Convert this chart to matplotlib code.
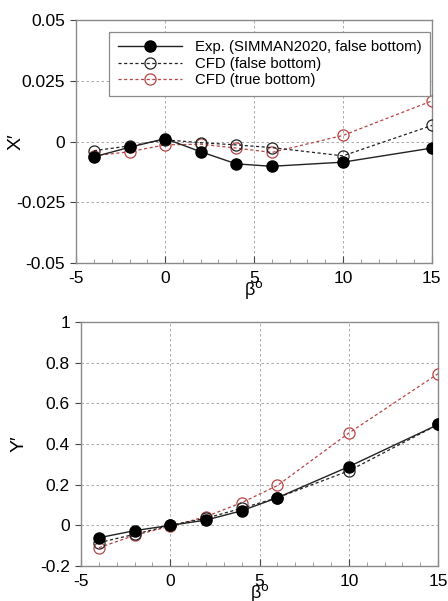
import matplotlib.pyplot as plt
from matplotlib.ticker import MultipleLocator

plt.rcParams["font.family"] = ["Liberation Sans", "DejaVu Sans"]
plt.rcParams["axes.unicode_minus"] = False

# Drift angle (deg)
beta = [-4, -2, 0, 2, 4, 6, 10, 15]

# Non-dimensional surge force X'
x_exp = [-0.0063, -0.0024, 0.0012, -0.0042, -0.0092, -0.0102, -0.0085, -0.0027]
x_cfd_false = [-0.0038, -0.0018, 0.0007, -0.0005, -0.0014, -0.0025, -0.0059, 0.0066]
x_cfd_true = [-0.0059, -0.0042, -0.0014, -0.0011, -0.0027, -0.0045, 0.0025, 0.0167]

# Non-dimensional sway force Y'
y_exp = [-0.061, -0.026, 0.0, 0.026, 0.072, 0.136, 0.289, 0.496]
y_cfd_false = [-0.085, -0.044, 0.0, 0.035, 0.084, 0.136, 0.268, 0.496]
y_cfd_true = [-0.110, -0.049, -0.004, 0.043, 0.112, 0.196, 0.454, 0.746]

labels = ["Exp. (SIMMAN2020, false bottom)", "CFD (false bottom)", "CFD (true bottom)"]
red = "#b94444"
spine_col = "#8a8a8a"


def draw_panel(ax, exp, cfd_f, cfd_t, ylim, ystep, ylabel, ylab_x):
    l3, = ax.plot(beta, cfd_t, ls=(0, (2.5, 2)), lw=0.9, color=red, marker="o",
                  ms=8, mfc="none", mec=red, mew=0.9, zorder=3)
    l2, = ax.plot(beta, cfd_f, ls=(0, (2.5, 2)), lw=0.9, color="#222222", marker="o",
                  ms=8, mfc="none", mec="#222222", mew=0.9, zorder=4)
    l1, = ax.plot(beta, exp, ls="-", lw=1.0, color="#222222", marker="o",
                  ms=8, mfc="black", mec="black", zorder=5)

    ax.set_xlim(-5, 15)
    ax.set_ylim(*ylim)
    ax.xaxis.set_major_locator(MultipleLocator(5))
    ax.xaxis.set_minor_locator(MultipleLocator(1))
    ax.yaxis.set_major_locator(MultipleLocator(ystep))
    ax.yaxis.set_major_formatter(lambda v, p: "0" if abs(v) < 1e-9 else f"{v:g}")

    ax.grid(True, which="major", color="#9a9a9a", ls=(0, (3, 3)), lw=0.6)
    for s in ax.spines.values():
        s.set_color(spine_col)
        s.set_linewidth(1.0)
    ax.tick_params(axis="x", which="major", direction="in", length=5,
                   color="#444444", labelsize=12.5, pad=6)
    ax.tick_params(axis="x", which="minor", direction="in", length=3, color=spine_col)
    ax.tick_params(axis="y", which="major", direction="out", length=4,
                   color="#444444", labelsize=12.5, pad=4)

    ax.set_xlabel("β$^{\\rm o}$", fontsize=13, labelpad=-5)
    ax.set_ylabel(ylabel, fontsize=14)
    ax.yaxis.set_label_coords(ylab_x, 0.5)
    return l1, l2, l3


fig = plt.figure(figsize=(4.48, 6.01), dpi=100)
ax_top = fig.add_axes([0.170, 0.5624, 0.794, 0.4043])
ax_bot = fig.add_axes([0.181, 0.0582, 0.797, 0.4060])

h = draw_panel(ax_top, x_exp, x_cfd_false, x_cfd_true, (-0.05, 0.05), 0.025, "X′", -0.146)
draw_panel(ax_bot, y_exp, y_cfd_false, y_cfd_true, (-0.2, 1.0), 0.2, "Y′", -0.151)

leg = ax_top.legend(h, labels, loc="upper right", bbox_to_anchor=(0.994, 0.951),
                    borderaxespad=0, fontsize=10.7, handlelength=4.3, borderpad=0.55,
                    labelspacing=0.18, handletextpad=0.9, fancybox=False, framealpha=1)
leg.get_frame().set_edgecolor(spine_col)
leg.get_frame().set_linewidth(0.9)

fig.savefig("out.png", dpi=100)
